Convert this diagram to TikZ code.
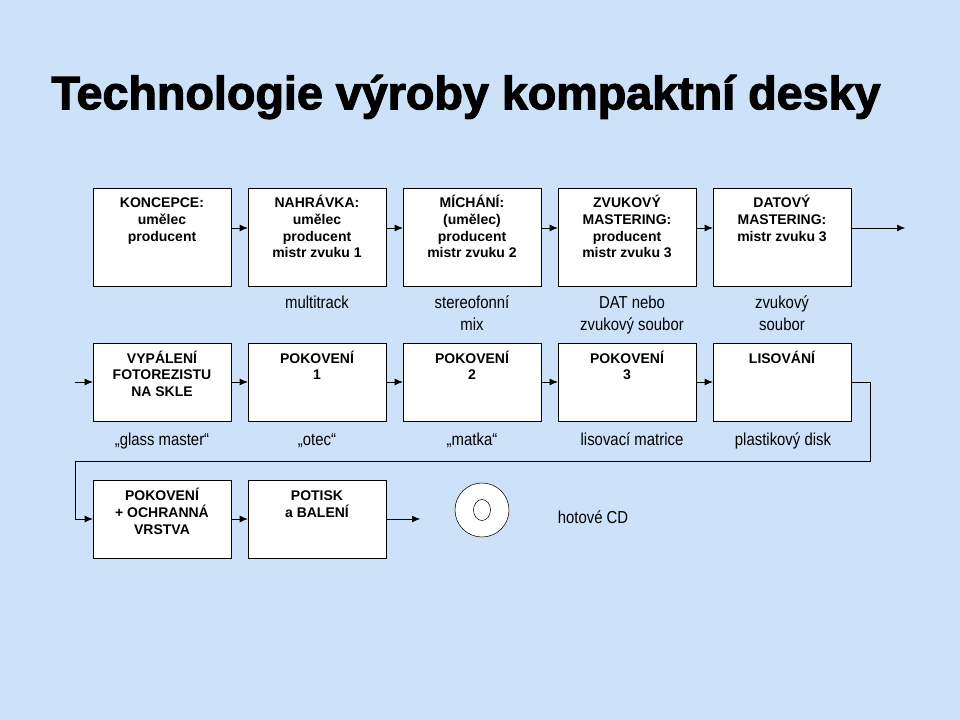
\documentclass[tikz,border=0pt]{standalone}
\usepackage{fontspec}
\setmainfont{Liberation Sans}
\newfontfamily\narrowfont[FakeStretch=0.86]{Liberation Sans}
\newfontfamily\titlefont[FakeBold=2.5]{Liberation Sans Bold}
\usetikzlibrary{arrows.meta}
\definecolor{sky}{RGB}{205,225,248}
\newcommand{\boxlines}[1]{\begin{tabular}[t]{@{}c@{}}#1\end{tabular}}
\tikzset{
  stage/.style={rectangle, draw, thin, fill=white, minimum width=138*0.75pt, inner sep=0pt},
  stagetext/.style={anchor=base, font=\bfseries\fontsize{10.5}{12.5}\selectfont, inner sep=0pt},
  product/.style={anchor=base, font=\narrowfont\fontsize{13}{17}\selectfont, inner sep=0pt},
  flow/.style={-{Latex[length=6pt,width=5pt]}, thin}
}
\begin{document}
\begin{tikzpicture}[x=0.75pt, y=-0.75pt]
\fill[sky] (0,0) rectangle (960,720);
\useasboundingbox (0,0) rectangle (960,720);

% title
\node[font=\titlefont\fontsize{35}{36}\selectfont] (title) at (466,97) {Technologie výroby kompaktní desky};

% row 1
\node[stage, minimum height=98*0.75pt] (A1) at (162,237) {};
\node[stage, minimum height=98*0.75pt] (A2) at (317,237) {};
\node[stage, minimum height=98*0.75pt] (A3) at (472,237) {};
\node[stage, minimum height=98*0.75pt] (A4) at (627,237) {};
\node[stage, minimum height=98*0.75pt] (A5) at (782,237) {};
\node[stagetext] (A1t) at (162,208) {\boxlines{KONCEPCE:\\umělec\\producent}};
\node[stagetext] (A2t) at (317,208) {\boxlines{NAHRÁVKA:\\umělec\\producent\\mistr zvuku 1}};
\node[stagetext] (A3t) at (472,208) {\boxlines{MÍCHÁNÍ:\\(umělec)\\producent\\mistr zvuku 2}};
\node[stagetext] (A4t) at (627,208) {\boxlines{ZVUKOVÝ\\MASTERING:\\producent\\mistr zvuku 3}};
\node[stagetext] (A5t) at (782,208) {\boxlines{DATOVÝ\\MASTERING:\\mistr zvuku 3}};
\coordinate (out1) at (905,228);

\draw[flow] (A1.east |- out1) -- (A2.west |- out1);
\draw[flow] (A2.east |- out1) -- (A3.west |- out1);
\draw[flow] (A3.east |- out1) -- (A4.west |- out1);
\draw[flow] (A4.east |- out1) -- (A5.west |- out1);
\draw[flow] (A5.east |- out1) -- (out1);

% row 2
\node[product] (L2) at (317,308) {\boxlines{multitrack}};
\node[product] (L3) at (472,308) {\boxlines{stereofonní\\mix}};
\node[product] (L4) at (632,308) {\boxlines{DAT nebo\\zvukový soubor}};
\node[product] (L5) at (782,308) {\boxlines{zvukový\\soubor}};

% row 3
\node[stage, minimum height=78*0.75pt] (B1) at (162,382) {};
\node[stage, minimum height=78*0.75pt] (B2) at (317,382) {};
\node[stage, minimum height=78*0.75pt] (B3) at (472,382) {};
\node[stage, minimum height=78*0.75pt] (B4) at (627,382) {};
\node[stage, minimum height=78*0.75pt] (B5) at (782,382) {};
\node[stagetext] (B1t) at (162,363) {\boxlines{VYPÁLENÍ\\FOTOREZISTU\\NA SKLE}};
\node[stagetext] (B2t) at (317,363) {\boxlines{POKOVENÍ\\1}};
\node[stagetext] (B3t) at (472,363) {\boxlines{POKOVENÍ\\2}};
\node[stagetext] (B4t) at (627,363) {\boxlines{POKOVENÍ\\3}};
\node[stagetext] (B5t) at (782,363) {\boxlines{LISOVÁNÍ}};
\coordinate (in3) at (75,382);

\draw[flow] (in3) -- (B1.west);
\draw[flow] (B1) -- (B2);
\draw[flow] (B2) -- (B3);
\draw[flow] (B3) -- (B4);
\draw[flow] (B4) -- (B5);

% row 4
\node[product] (M1) at (162,445) {„glass master“};
\node[product] (M2) at (317,445) {„otec“};
\node[product] (M3) at (472,445) {„matka“};
\node[product] (M4) at (632,445) {lisovací matrice};
\node[product] (M5) at (783,445) {plastikový disk};

% row 5
\node[stage, minimum height=78*0.75pt] (C1) at (162,519) {};
\node[stage, minimum height=78*0.75pt] (C2) at (317,519) {};
\node[stagetext] (C1t) at (162,500) {\boxlines{POKOVENÍ\\+ OCHRANNÁ\\VRSTVA}};
\node[stagetext] (C2t) at (317,500) {\boxlines{POTISK\\a BALENÍ}};
\node[circle, draw, thin, fill=white, minimum size=54*0.75pt, inner sep=0pt] (cd) at (482,510) {};
\draw[thin] (cd.center) ellipse [x radius=8.5, y radius=10.5];
\node[product] (ready) at (593,523) {hotové CD};
\coordinate (cdin) at (420,519);

\draw[flow] (B5.east) -| (870,461) -| (in3 |- C1) -- (C1.west);
\draw[flow] (C1) -- (C2);
\draw[flow] (C2.east) -- (cdin);
\end{tikzpicture}
\end{document}
